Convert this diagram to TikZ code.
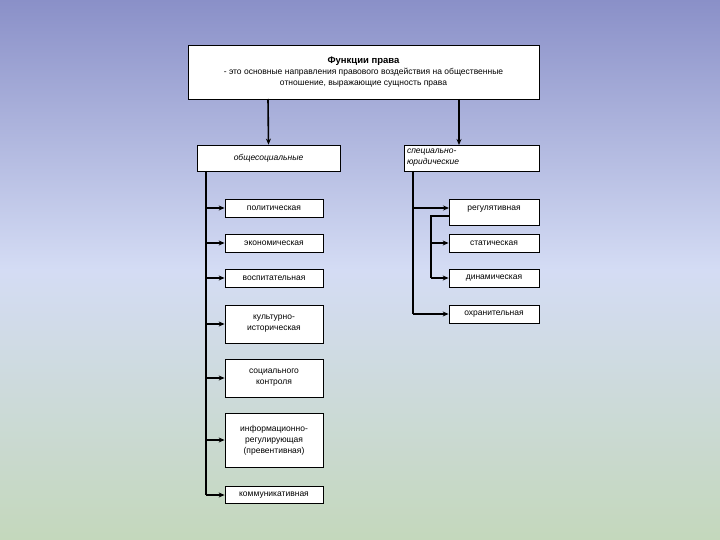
\documentclass[tikz,border=0pt]{standalone}
\usepackage{fontspec}
\setmainfont{Liberation Sans}
\usetikzlibrary{arrows.meta}
\definecolor{bgtop}{HTML}{8A90C8}
\definecolor{bgmid}{HTML}{D4DCF4}
\definecolor{bgbot}{HTML}{C4D8BC}
\begin{document}
\begin{tikzpicture}[x=1pt,y=-1pt,
  box/.style={draw=black,fill=white,line width=0.8pt,inner sep=1pt,align=center,font=\fontsize{8.5}{11}\selectfont},
  con/.style={line width=1.6pt,-{Stealth[length=6pt,width=5pt]}},
  ln/.style={line width=1.6pt}]
\shade[top color=bgtop,bottom color=bgbot,middle color=bgmid] (0,0) rectangle (720,540);
\useasboundingbox (0,0) rectangle (720,540);
\node[box,minimum width=351pt,minimum height=54pt] (top) at (363.5,72) {\textbf{\fontsize{9.5}{12}\selectfont Функции права}\\- это основные направления правового воздействия на общественные\\отношение, выражающие сущность права};
\node[box,minimum width=143pt,minimum height=26pt,font=\fontsize{8.5}{11}\selectfont\itshape] (gen) at (268.5,158) {общесоциальные};
\node[box,minimum width=135pt,minimum height=26pt,align=left,text width=129pt,font=\fontsize{8.5}{11}\selectfont\itshape] (spec) at (471.5,158) {специально-\\юридические};
\draw[con] (268,99) -- (gen.north);
\draw[con] (459,99) -- (459,145);
\foreach \n/\y/\h/\t in {p/208/18/{политическая}, e/243/18/{экономическая}, v/278/18/{воспитательная}, k/324/38/{культурно-\\историческая}, s/378/38/{социального\\контроля}, i/440/54/{информационно-\\регулирующая\\(превентивная)}, c/495/17/{коммуникативная}}{
  \node[box,minimum width=98pt,minimum height=\h pt] (\n) at (274,\y) {\t};
  \draw[con] (206,\y) -- (\n.west);
}
\coordinate (lt) at (206,171);
\coordinate (lb) at (206,495);
\draw[ln] (lt) -- (lb);
\node[box,minimum width=90pt,minimum height=26pt] (r) at (494,212) {\raisebox{8pt}{регулятивная}};
\foreach \n/\y/\t in {st/243/{статическая}, d/278/{динамическая}}{
  \node[box,minimum width=90pt,minimum height=18pt] (\n) at (494,\y) {\t};
  \draw[con] (431,\y) -- (\n.west);
}
\node[box,minimum width=90pt,minimum height=18pt] (o) at (494,314) {охранительная};
\coordinate (rt) at (413,171);
\coordinate (rb) at (413,314);
\draw[ln] (rt) -- (rb);
\draw[con] (413,208) -- (449,208);
\draw[con] (rb) -- (o.west);
\draw[ln] (449,216) -- (431,216) -- (431,278);
\end{tikzpicture}
\end{document}
